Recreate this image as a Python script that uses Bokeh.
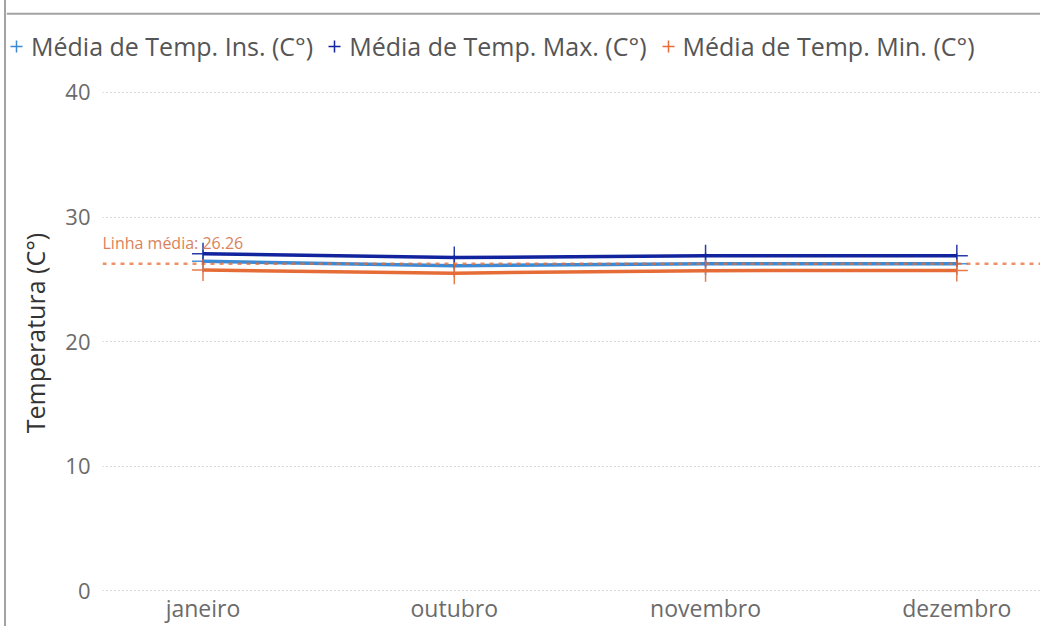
from bokeh.plotting import figure
from bokeh.layouts import column
from bokeh.models import (Span, Label, Legend, LegendItem, FixedTicker, Range1d,
                          ColumnDataSource)
from bokeh.embed import file_html
from bokeh.resources import INLINE

# ---- data ----
months = ["janeiro", "outubro", "novembro", "dezembro"]
temp_ins = [26.45, 26.10, 26.25, 26.25]
temp_max = [27.05, 26.75, 26.90, 26.90]
temp_min = [25.75, 25.50, 25.70, 25.72]
media_linha = 26.26
y_ticks = [0, 10, 20, 30, 40]

series_names = ["Média de Temp. Ins. (C°)", "Média de Temp. Max. (C°)", "Média de Temp. Min. (C°)"]
colors = ["#3a8ad6", "#12239E", "#E66C37"]

x = list(range(len(months)))

FONT = "Open Sans"
W = 1034
LEG_H = 74
H = 626

# ---- legend strip ----
lg = figure(width=W, height=LEG_H, output_backend="svg", toolbar_location=None,
            x_range=Range1d(0, 1), y_range=Range1d(0, 1),
            min_border_left=0, min_border_right=0, min_border_top=0, min_border_bottom=0)
lg.frame_align = False
lg.axis.visible = False
lg.grid.visible = False
lg.outline_line_color = None
# visual frame line at the top of the card
lg.add_layout(Span(location=0.82, dimension="width", line_color="#a3a3a3", line_width=2))
leg_items = []
for n, col in zip(series_names, colors):
    # legend key only: point lies outside the visible range
    r = lg.scatter(x=[5], y=[5], marker="cross", size=16, line_color=col, line_width=1.5)
    leg_items.append(LegendItem(label=n, renderers=[r]))
legend = Legend(items=leg_items, orientation="horizontal", location=(-5, 11),
                label_text_font=FONT, label_text_font_size="25px", label_text_color="#555555",
                glyph_width=30, glyph_height=30, spacing=6, label_standoff=0,
                padding=0, margin=0, border_line_color=None, background_fill_alpha=0)
lg.add_layout(legend)

# ---- main chart ----
p = figure(width=W, height=H - LEG_H, output_backend="svg", toolbar_location=None,
           x_range=Range1d(-0.40, 3.333), y_range=Range1d(-0.05, 41.44),
           min_border_left=96, min_border_right=0, min_border_top=0, min_border_bottom=30)
p.frame_align = False
p.outline_line_color = None
p.background_fill_color = "white"
p.border_fill_color = "white"

span = Span(location=media_linha, dimension="width", line_color="#E66C37",
            line_alpha=0.75, line_width=2.5, line_dash="4 5")
p.add_layout(span)
p.add_layout(Label(x=-0.40, y=media_linha, text=f"Linha média: {media_linha:.2f}",
                   x_offset=0, y_offset=10, text_color="#d9825a", text_font_size="16px",
                   text_font="Open Sans"))

for vals, col in zip([temp_ins, temp_max, temp_min], colors):
    src = ColumnDataSource(dict(x=x, y=vals))
    p.line("x", "y", source=src, line_color=col, line_width=3.5)
    p.scatter("x", "y", source=src, marker="cross", size=22, line_color=col,
              line_width=1.5, line_alpha=0.9)

p.xaxis.ticker = FixedTicker(ticks=x)
p.xaxis.major_label_overrides = {i: mth for i, mth in enumerate(months)}
p.yaxis.ticker = FixedTicker(ticks=y_ticks)
for ax in (p.xaxis[0], p.yaxis[0]):
    ax.axis_line_color = None
    ax.major_tick_line_color = None
    ax.minor_tick_line_color = None
    ax.major_tick_out = 0
    ax.major_tick_in = 0
    ax.minor_tick_out = 0
    ax.major_label_text_font = FONT
    ax.major_label_text_font_size = "22px"
    ax.major_label_text_color = "#6b6b6b"
p.xaxis.major_label_text_font_size = "23px"
p.xaxis.major_label_standoff = 0
p.yaxis.major_label_standoff = 12
p.yaxis.axis_label = "Temperatura (C°)"
p.yaxis.axis_label_text_font = FONT
p.yaxis.axis_label_text_font_size = "25px"
p.yaxis.axis_label_text_font_style = "normal"
p.yaxis.axis_label_text_color = "#333333"
p.yaxis.axis_label_standoff = 10

p.xgrid.grid_line_color = None
p.ygrid.grid_line_color = "#b5b5b5"
p.ygrid.grid_line_dash = "1 3"
p.ygrid.grid_line_width = 1

layout = column(lg, p, spacing=0,
                styles={"border-left": "2px solid #a3a3a3", "margin-left": "4px"})
open("out.html", "w").write(file_html(layout, INLINE))
